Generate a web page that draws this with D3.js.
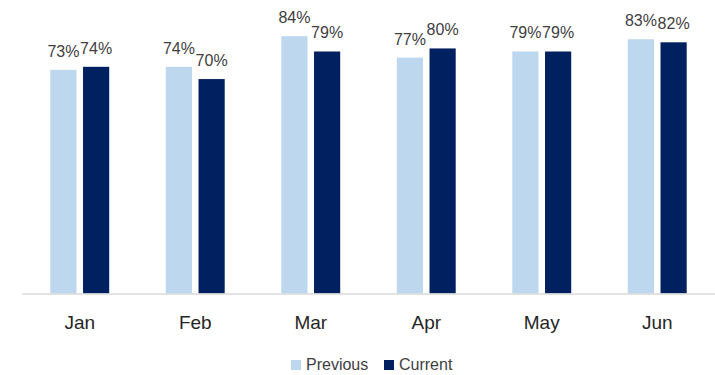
<!DOCTYPE html>
<html>
<head>
<meta charset="utf-8">
<script src="https://cdn.jsdelivr.net/npm/d3@7"></script>
<style>
  html, body { margin: 0; padding: 0; background: #ffffff; }
  svg { display: block; font-family: "Liberation Sans", Arial, sans-serif; }
</style>
</head>
<body>
<svg id="chart" width="715" height="375"></svg>
<script>
// Monthly share, previous vs current period
const months = ["Jan", "Feb", "Mar", "Apr", "May", "Jun"];
const previous = [0.73, 0.74, 0.84, 0.77, 0.79, 0.83];
const current = [0.74, 0.70, 0.79, 0.80, 0.79, 0.82];
const seriesNames = ["Previous", "Current"];
const seriesColors = ["#BDD7EE", "#002060"];

const rows = months.map((m, i) => ({ month: m, values: [previous[i], current[i]] }));

const svg = d3.select("#chart");
const baseY = 293.5;

const x = d3.scaleBand().domain(months).range([22, 715]).paddingInner(0.49).paddingOuter(0.245);
const xSeries = d3.scaleBand().domain(seriesNames).range([0, x.bandwidth()]).paddingInner(0.2);
const y = d3.scaleLinear().domain([0, 0.9]).range([baseY, 17.8]);
const color = d3.scaleOrdinal().domain(seriesNames).range(seriesColors);
const pct = d3.format(".0%");

const groups = svg.append("g").selectAll("g")
  .data(rows)
  .join("g")
  .attr("transform", d => `translate(${x(d.month)},0)`);

const cells = groups.selectAll("g.cell")
  .data(d => d.values.map((v, j) => ({ series: seriesNames[j], value: v })))
  .join("g")
  .attr("class", "cell");

cells.append("rect")
  .attr("x", d => xSeries(d.series))
  .attr("y", d => y(d.value))
  .attr("width", xSeries.bandwidth())
  .attr("height", d => baseY - y(d.value))
  .attr("fill", d => color(d.series));

cells.append("text")
  .attr("x", d => xSeries(d.series) + xSeries.bandwidth() / 2)
  .attr("y", d => y(d.value) - 13)
  .attr("text-anchor", "middle")
  .attr("font-size", 16)
  .attr("fill", "#404040")
  .text(d => pct(d.value));

// Category axis
const xAxis = svg.append("g")
  .attr("transform", `translate(0,${baseY})`)
  .call(d3.axisBottom(x).tickSize(0).tickPadding(22).tickSizeOuter(0));
xAxis.select(".domain").attr("stroke", "#d9d9d9").attr("stroke-width", 1.5);
xAxis.selectAll("text")
  .attr("font-size", 19)
  .attr("fill", "#262626")
  .attr("font-family", "\"Liberation Sans\", Arial, sans-serif");

// Legend
const legendItems = [
  { name: "Previous", x: 291 },
  { name: "Current", x: 384 }
];
const legend = svg.append("g").selectAll("g")
  .data(legendItems)
  .join("g")
  .attr("transform", d => `translate(${d.x},360)`);
legend.append("rect")
  .attr("width", 10).attr("height", 10)
  .attr("fill", d => color(d.name));
legend.append("text")
  .attr("x", 15).attr("y", 10)
  .attr("font-size", 16)
  .attr("fill", "#404040")
  .text(d => d.name);
</script>
</body>
</html>
